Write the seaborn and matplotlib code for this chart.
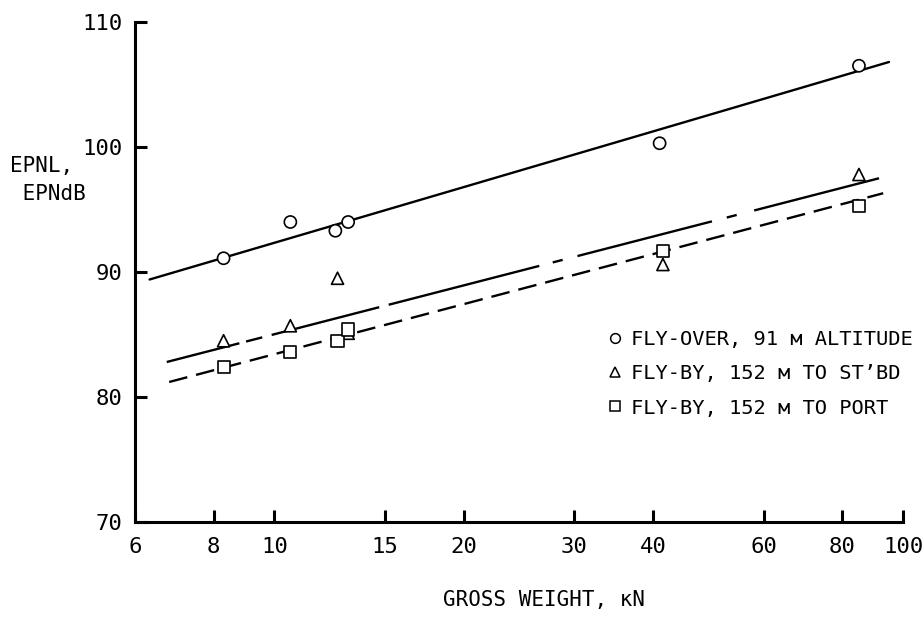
import numpy as np
import pandas as pd
import matplotlib
matplotlib.use("Agg")
import matplotlib.pyplot as plt
import seaborn as sns
from matplotlib.lines import Line2D
from matplotlib.ticker import FixedLocator, FixedFormatter, NullLocator

# ---------------- data ----------------
series_names = ["FLY-OVER, 91 м ALTITUDE", "FLY-BY, 152 м TO ST’BD", "FLY-BY, 152 м TO PORT"]

flyover_w = [8.3, 10.6, 12.5, 13.1, 41.0, 85.1]
flyover_epnl = [91.1, 94.0, 93.3, 94.0, 100.3, 106.5]

stbd_w = [8.3, 10.6, 12.6, 13.1, 41.5, 85.1]
stbd_epnl = [84.5, 85.7, 89.5, 85.1, 90.6, 97.8]

port_w = [8.3, 10.6, 12.6, 13.1, 41.5, 85.1]
port_epnl = [82.4, 83.6, 84.5, 85.4, 91.7, 95.3]

# faired lines (end points)
fit_flyover_w = [6.33, 95.0]
fit_flyover_epnl = [89.4, 106.8]
fit_stbd_w = [6.74, 91.6]
fit_stbd_epnl = [82.8, 97.5]
fit_port_w = [6.8, 93.0]
fit_port_epnl = [81.2, 96.3]

x_ticks = [6, 8, 10, 15, 20, 30, 40, 60, 80, 100]
x_tick_labels = ["6", "8", "10", "15", "20", "30", "40", "60", "80", "100"]
y_ticks = [70, 80, 90, 100, 110]
y_tick_labels = ["70", "80", "90", "100", "110"]

# ---------------- style ----------------
sns.set_style("ticks")
plt.rcParams["font.family"] = ["DejaVu Sans Mono", "DejaVu Sans"]
plt.rcParams["lines.scale_dashes"] = False
plt.rcParams["text.color"] = "black"
plt.rcParams["axes.labelcolor"] = "black"
plt.rcParams["xtick.color"] = "black"
plt.rcParams["ytick.color"] = "black"

fig = plt.figure(figsize=(9.23, 6.18), dpi=100)
ax = fig.add_axes([135 / 923, 1 - 522 / 618, 768 / 923, 500 / 618])

df = pd.DataFrame({
    "w": flyover_w + stbd_w + port_w,
    "epnl": flyover_epnl + stbd_epnl + port_epnl,
    "series": [series_names[0]] * len(flyover_w)
              + [series_names[1]] * len(stbd_w)
              + [series_names[2]] * len(port_w),
})
markers = {series_names[0]: "o", series_names[1]: "^", series_names[2]: "s"}

# faired lines
sns.lineplot(x=fit_flyover_w, y=fit_flyover_epnl, color="black", lw=1.7,
             linestyle="-", ax=ax, sort=False, zorder=2)
stbd_dash = (0, (54, 5, 12, 7, 80, 7, 112, 10, 7.4, 11, 100, 11, 7.4, 13, 140, 8))
sns.lineplot(x=fit_stbd_w, y=fit_stbd_epnl, color="black", lw=1.7,
             linestyle=stbd_dash, ax=ax, sort=False, zorder=2)
sns.lineplot(x=fit_port_w, y=fit_port_epnl, color="black", lw=1.7,
             linestyle=(0, (13.5, 6.5)), ax=ax, sort=False, zorder=2)

sns.scatterplot(data=df, x="w", y="epnl", style="series", markers=markers,
                s=76, color="white", edgecolor="black", linewidth=1.2,
                legend=False, ax=ax, zorder=3)

ax.set_xscale("log")
ax.set_xlim(6, 100)
ax.set_ylim(70, 110)
ax.xaxis.set_major_locator(FixedLocator(x_ticks))
ax.xaxis.set_major_formatter(FixedFormatter(x_tick_labels))
ax.xaxis.set_minor_locator(NullLocator())
ax.yaxis.set_major_locator(FixedLocator(y_ticks))
ax.yaxis.set_major_formatter(FixedFormatter(y_tick_labels))

for side in ["top", "right"]:
    ax.spines[side].set_visible(False)
for side in ["left", "bottom"]:
    ax.spines[side].set_linewidth(2.2)
    ax.spines[side].set_color("black")

ax.tick_params(axis="both", which="major", direction="in", length=8.6,
               width=2.2, color="black", labelsize=16, labelcolor="black")
ax.tick_params(axis="x", pad=11)
ax.tick_params(axis="y", pad=9)

ax.set_xlabel("GROSS WEIGHT, κN", fontsize=15, color="black")
ax.xaxis.set_label_coords(0.533, -0.136)
ax.set_ylabel("EPNL,\n EPNdB", fontsize=15, color="black", rotation=0,
              ha="left", va="center", multialignment="left", linespacing=1.5)
ax.yaxis.set_label_coords(-125 / 768, (522 - 180) / 500)

handles = [Line2D([], [], marker=markers[n], linestyle="none", markersize=7,
                  markerfacecolor="white", markeredgecolor="black",
                  markeredgewidth=1.1) for n in series_names]
leg = ax.legend(handles, series_names, loc="upper left",
                bbox_to_anchor=(609 / 923, 1 - 330 / 618), bbox_transform=fig.transFigure,
                frameon=False, borderpad=0, borderaxespad=0, handlelength=0.6,
                handletextpad=0.5, labelspacing=0.75, fontsize=14.7)
for t in leg.get_texts():
    t.set_color("black")

fig.savefig("out.png", dpi=100)
